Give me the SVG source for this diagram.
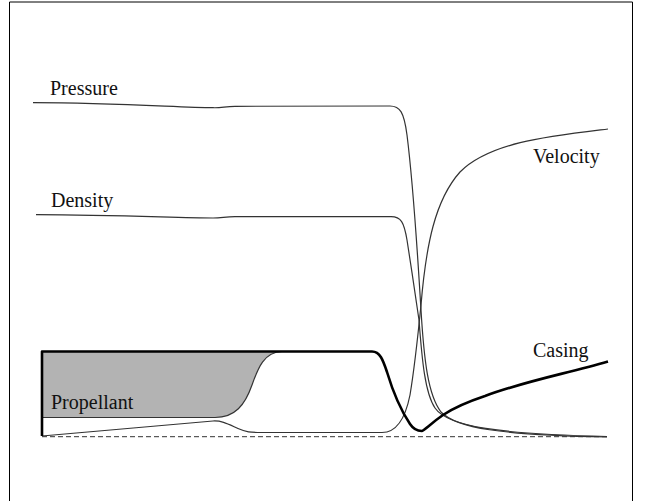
<svg xmlns="http://www.w3.org/2000/svg" width="645" height="501" viewBox="0 0 645 501">
<style>
text{font-family:'Liberation Serif','Times New Roman','DejaVu Serif',serif;font-size:20px;fill:#111}
.thin{fill:none;stroke:#333;stroke-width:1.2}
.thick{fill:none;stroke:#000;stroke-width:2.6;stroke-linejoin:round}
</style>
<rect width="645" height="501" fill="#fff"/>
<path d="M9.5,501 V2 H632.5 V501" fill="none" stroke="#000" stroke-width="1"/>
<g id="propellant">
<path d="M42,351.5 L282,351.5 C264,352 258,368 252,385 C245,405 235,417.5 215,417.5 L42,417.5 Z" fill="#b3b3b3" stroke="none"/>
<path d="M42,417.5 L215,417.5 C235,417.5 245,405 252,385 C258,368 264,352 282,351.5" class="thin"/>
<text x="51" y="409" font-family="Liberation Serif, serif">Propellant</text>
</g>
<g id="axis">
<line x1="42" y1="436.7" x2="608" y2="436.7" stroke="#333" stroke-width="1" stroke-dasharray="5,3"/>
</g>
<g id="pressure">
<path class="thin" d="M33,102.7 C120,103 180,107.5 213,107.7 C222,108 225,106.3 235,106.3 L390,106 C400,106 404,112 407,135 C412,175 418,260 421,310 C424,360 428,395 441,412 C456,428 500,435 607,437"/>
<text x="50" y="95" font-family="Liberation Serif, serif">Pressure</text>
</g>
<g id="density">
<path class="thin" d="M36,214.7 C120,215 180,218 213,218 C222,218 225,216.7 235,216.7 L391,216.7 C401,216.7 404,222 407,240 C411,265 416,300 419,320 C422,360 425,393 435,408 C448,427 500,434 607,436.5"/>
<text x="51" y="207" font-family="Liberation Serif, serif">Density</text>
</g>
<g id="velocity">
<path class="thin" d="M42,436 L213,421 C222,420.5 228,424 238,428.5 C246,432 250,432.5 262,432.5 L382,432.5 C395,432.5 405,420 410,395 C415,365 418,335 421,305 C426,245 435,200 460,172 C490,142 550,136 608,129"/>
<text x="533" y="163" font-family="Liberation Serif, serif">Velocity</text>
</g>
<g id="casing">
<path class="thick" d="M42,436 L42,351.5 L372,351.5 C380,351.5 383,360 387,372 C393,392 402,412 410,424 C414,430 418,431 421.7,431 C425,430 430,424 443,415 C455,407 470,401 485,396 C525,381 565,374 608,361.5"/>
<text x="533" y="357" font-family="Liberation Serif, serif">Casing</text>
</g>
</svg>
